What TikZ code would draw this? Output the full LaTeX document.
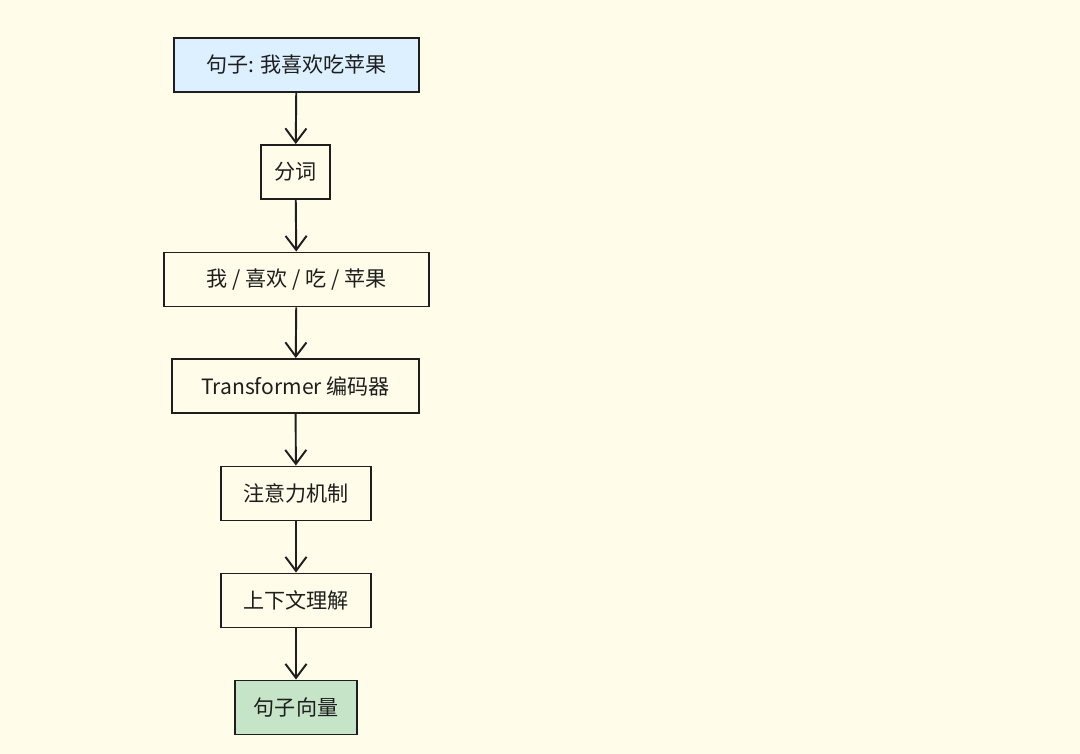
\documentclass[tikz,border=0pt]{standalone}
\usepackage{fontspec}
\setmainfont{Noto Sans CJK SC}
\usetikzlibrary{arrows.meta}
\definecolor{bgcol}{HTML}{FFFDE9}
\definecolor{inblue}{HTML}{DDF0FF}
\definecolor{outgreen}{HTML}{C6E5C8}
\definecolor{ink}{HTML}{1E1E1E}
\tikzset{box/.style={rectangle,draw=ink,line width=1.1pt,minimum height=1.08cm,font=\large,text=ink}}

\begin{document}
\begin{tikzpicture}[x=0.02cm,y=-0.02cm]
\path [fill=bgcol] (0,0) rectangle (1080,754);
\useasboundingbox (0,0) rectangle (1080,754);
\node (sent)   at (296.5,65)  [box,minimum width=4.9cm,fill=inblue] {句子: 我喜欢吃苹果};
\node (seg)    at (295.5,172) [box,minimum width=1.38cm] {分词};
\node (words)  at (296.5,279.5) [box,minimum width=5.3cm] {我 / 喜欢 / 吃 / 苹果};
\node (enc)    at (295.5,386) [box,minimum width=4.94cm] {Transformer 编码器};
\node (attn)   at (296,493.5) [box,minimum width=3cm] {注意力机制};
\node (ctx)    at (296,600.5) [box,minimum width=3cm] {上下文理解};
\node (vec)    at (296,707.5) [box,minimum width=2.44cm,fill=outgreen] {句子向量};
\draw [line width=1.1pt,draw=ink,-{Straight Barb[length=8pt,width=12pt]}] (sent)  to (seg);
\draw [line width=1.1pt,draw=ink,-{Straight Barb[length=8pt,width=12pt]}] (seg)   to (words);
\draw [line width=1.1pt,draw=ink,-{Straight Barb[length=8pt,width=12pt]}] (words) to (enc);
\draw [line width=1.1pt,draw=ink,-{Straight Barb[length=8pt,width=12pt]}] (enc)   to (attn);
\draw [line width=1.1pt,draw=ink,-{Straight Barb[length=8pt,width=12pt]}] (attn)  to (ctx);
\draw [line width=1.1pt,draw=ink,-{Straight Barb[length=8pt,width=12pt]}] (ctx)   to (vec);
\end{tikzpicture}
\end{document}
